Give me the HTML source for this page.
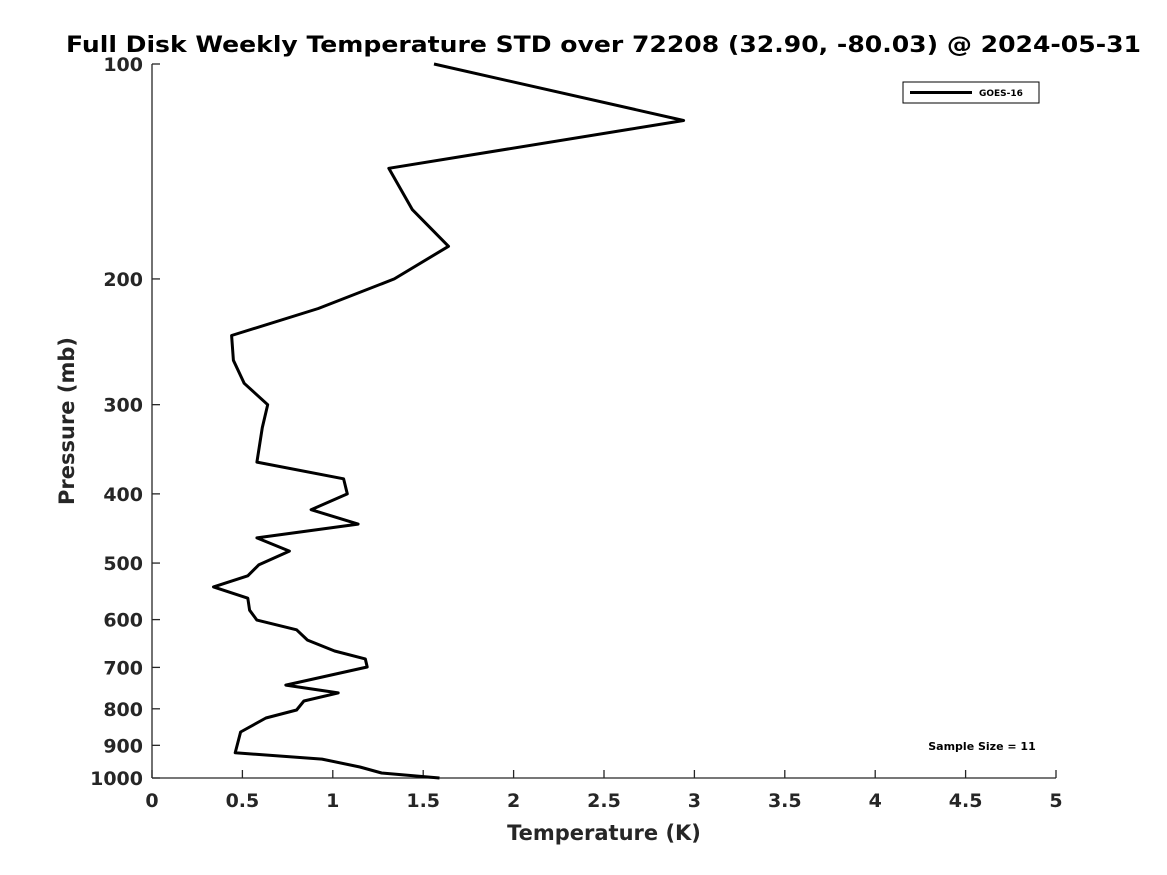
<!DOCTYPE html>
<html><head><meta charset="utf-8"><style>
body{margin:0;background:#fff;}
svg{display:block;font-family:"DejaVu Sans","Liberation Sans",sans-serif;}
</style></head><body>
<svg id="chart" width="1167" height="875">
<text x="66" y="52" textLength="1075" lengthAdjust="spacingAndGlyphs" font-size="22" font-weight="bold" fill="#000">Full Disk Weekly Temperature STD over 72208 (32.90, -80.03) @ 2024-05-31</text>
<g id="axes"></g>
<path id="line" fill="none" stroke="#000" stroke-width="3" stroke-linejoin="round"/>
<g>
<rect x="903" y="82" width="136" height="21" fill="#fff" stroke="#000" stroke-width="1"/>
<line x1="910" y1="92.5" x2="972" y2="92.5" stroke="#000" stroke-width="3"/>
<text x="979" y="96" font-size="9" font-weight="bold">GOES-16</text>
</g>
<text x="982" y="750" text-anchor="middle" font-size="11" font-weight="bold">Sample Size = 11</text>
<text x="604" y="840" text-anchor="middle" font-size="21" font-weight="bold" fill="#262626">Temperature (K)</text>
<text transform="translate(74,421) rotate(-90)" text-anchor="middle" font-size="21" font-weight="bold" fill="#262626">Pressure (mb)</text>
</svg>
<script>
const temps=[1.56,2.94,1.31,1.44,1.64,1.34,0.92,0.44,0.45,0.51,0.64,0.61,0.58,1.06,1.08,0.88,1.14,0.58,0.76,0.59,0.53,0.34,0.53,0.54,0.58,0.80,0.86,1.01,1.18,1.19,0.74,1.03,0.84,0.80,0.63,0.49,0.46,0.94,1.15,1.27,1.59];
const pressures=[100,120,140,160,180,200,220,240,260,280,300,323,361,381,400,421,441,461,481,503,521,540,560,582,601,620,641,664,681,699,741,760,780,803,824,862,922,941,965,984,1000];
const xTicks=[0,0.5,1,1.5,2,2.5,3,3.5,4,4.5,5];
const xTickLabels=["0","0.5","1","1.5","2","2.5","3","3.5","4","4.5","5"];
const yTicks=[100,200,300,400,500,600,700,800,900,1000];
const yTickLabels=["100","200","300","400","500","600","700","800","900","1000"];
const X0=152,X1=1056,Y0=64,Y1=778;
const xs=v=>X0+(v-0)/(5-0)*(X1-X0);
const ys=p=>Y0+(Math.log10(p)-2)*(Y1-Y0);
const NS="http://www.w3.org/2000/svg";
const ax=document.getElementById('axes');
function mk(t,a){const e=document.createElementNS(NS,t);for(const k in a)e.setAttribute(k,a[k]);ax.appendChild(e);return e;}
let e=mk('line',{x1:X0,y1:Y0,x2:X0,y2:Y1,stroke:'#262626','stroke-width':1.3});


e=mk('line',{x1:X0,y1:Y1,x2:X1,y2:Y1,stroke:'#262626','stroke-width':1.3});


xTicks.forEach((v,i)=>{
 const x=xs(v);
 mk('line',{x1:x,y1:Y1,x2:x,y2:Y1-8,stroke:'#262626','stroke-width':1.3});
 const t=mk('text',{x:x,y:Y1+29,'text-anchor':'middle','font-size':19,'font-weight':'bold',fill:'#262626'});
 t.textContent=xTickLabels[i];
 
 
});
yTicks.forEach((p,i)=>{
 const y=ys(p);
 mk('line',{x1:X0,y1:y,x2:X0+8,y2:y,stroke:'#262626','stroke-width':1.3});
 const t=mk('text',{x:X0-9,y:y+7,'text-anchor':'end','font-size':19,'font-weight':'bold',fill:'#262626'});
 t.textContent=yTickLabels[i];
 
 
});
document.getElementById('line').setAttribute('d',temps.map((v,i)=>(i?'L':'M')+xs(v).toFixed(1)+','+ys(pressures[i]).toFixed(1)).join(' '));
</script>
</body></html>
